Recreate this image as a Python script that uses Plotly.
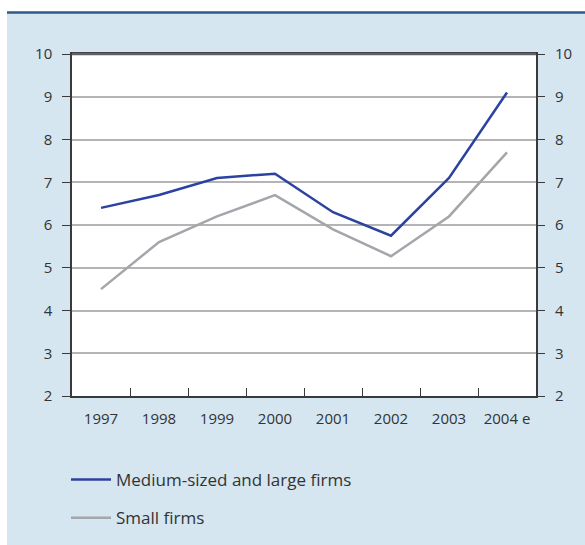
import plotly.graph_objects as go

# Data
years = ["1997", "1998", "1999", "2000", "2001", "2002", "2003", "2004 e"]
medium_large = [6.4, 6.7, 7.1, 7.2, 6.3, 5.75, 7.1, 9.1]
small = [4.5, 5.6, 6.2, 6.7, 5.9, 5.27, 6.2, 7.7]
y_ticks = [2, 3, 4, 5, 6, 7, 8, 9, 10]

BLUE = "#2b42a0"
GREY = "#a3a6aa"
PANEL = "#d5e6f0"
TEXT = "#333333"
FONT = "Open Sans"

fig = go.Figure()
fig.add_trace(go.Scatter(
    x=years, y=medium_large, mode="lines", name="Medium-sized and large firms",
    line=dict(color=BLUE, width=2.5), legendgroup="a",
))
fig.add_trace(go.Scatter(
    x=years, y=small, mode="lines", name="Small firms",
    line=dict(color=GREY, width=2.5), legendgroup="b",
))
# invisible trace that carries the right-hand value axis
fig.add_trace(go.Scatter(
    x=years, y=small, mode="lines", yaxis="y2", showlegend=False,
    hoverinfo="skip", line=dict(color="rgba(0,0,0,0)", width=0),
))

W, H = 585, 545
L, R, T, B = 72, 49, 54, 149
pw, ph = W - L - R, H - T - B

def px_x(p):
    return (p - L) / pw

def px_y(p):
    return (H - B - p) / ph

fig.update_layout(
    width=W, height=H,
    margin=dict(l=L, r=R, t=T, b=B, autoexpand=False),
    paper_bgcolor=PANEL,
    plot_bgcolor="white",
    font=dict(family=FONT, color=TEXT, size=15),
    showlegend=True,
    legend=dict(
        x=px_x(66), y=px_y(462), xanchor="left", yanchor="top",
        bgcolor="rgba(0,0,0,0)", font=dict(size=17, color=TEXT),
        traceorder="grouped", tracegroupgap=13, itemwidth=40,
    ),
    xaxis=dict(
        type="category", range=[-0.5, len(years) - 0.5], showgrid=False,
        showline=True, linecolor="#3a3a3a", linewidth=1.5, mirror=True,
        ticks="inside", tickson="boundaries", ticklen=8, tickcolor="#3a3a3a",
        tickwidth=1, tickfont=dict(size=15, color=TEXT), zeroline=False,
        ticklabelstandoff=8,
    ),
    yaxis=dict(
        range=[2, 10], tickvals=y_ticks, showgrid=True, gridcolor="#b4b4b4",
        gridwidth=1.5, showline=True, linecolor="#3a3a3a", linewidth=1.5,
        mirror=True, ticks="outside", ticklen=8, tickcolor="#3a3a3a",
        tickwidth=1, tickfont=dict(size=15, color=TEXT), zeroline=False,
        ticklabelstandoff=7,
    ),
    yaxis2=dict(
        range=[2, 10], tickvals=y_ticks, overlaying="y", side="right",
        anchor="x", showgrid=False, showline=False, ticks="outside",
        ticklen=8, tickcolor="#3a3a3a", tickwidth=1,
        tickfont=dict(size=15, color=TEXT), zeroline=False,
        ticklabelstandoff=7,
    ),
    shapes=[
        # white margin above and left of the panel
        dict(type="rect", xref="paper", yref="paper", x0=px_x(-5), x1=px_x(W + 5),
             y0=px_y(12), y1=px_y(-5), fillcolor="white", line=dict(width=0),
             layer="below"),
        dict(type="rect", xref="paper", yref="paper", x0=px_x(-5), x1=px_x(7),
             y0=px_y(H + 5), y1=px_y(-5), fillcolor="white", line=dict(width=0),
             layer="below"),
        # dark rule along the panel top
        dict(type="line", xref="paper", yref="paper", x0=px_x(7), x1=px_x(W + 5),
             y0=px_y(12.5), y1=px_y(12.5), line=dict(color="#2d5a86", width=2.5)),
        # heavier top border of the plot area
        dict(type="line", xref="paper", yref="paper", x0=0, x1=1, y0=1, y1=1,
             line=dict(color="#5e6266", width=2.5)),
    ],
)

# keep the page body in the panel colour so no white band shows below the figure
page_bg = "document.body.style.margin='0';document.body.style.background='%s';" % PANEL
fig.write_html("out.html", post_script=page_bg)
